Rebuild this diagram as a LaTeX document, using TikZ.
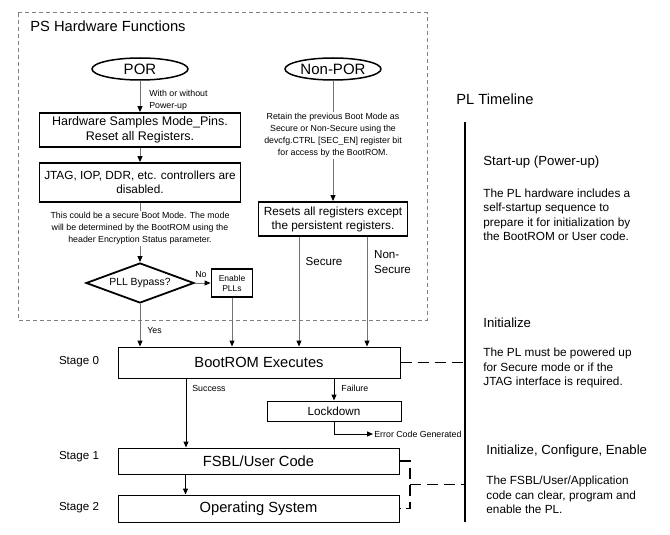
\documentclass[tikz,border=0pt]{standalone}
\usepackage{fontspec}
\setmainfont{Liberation Sans}
\usetikzlibrary{arrows.meta,shapes.geometric}

\definecolor{linegray}{RGB}{115,115,115}
\definecolor{framegray}{RGB}{128,128,128}

\tikzset{every picture/.style={line width=0.75pt}}
\tikzset{
  flow/.style={draw=linegray, line width=1pt, -{Triangle[length=6pt,width=5pt,color=black]}},
  thickbox/.style={draw, line width=1.8pt, inner sep=0pt, align=center, font=\fontsize{12.5}{14.5}\selectfont},
  stagebox/.style={draw, line width=1pt, inner sep=0pt, minimum width=282pt, font=\fontsize{14.7}{17}\selectfont},
  porshape/.style={ellipse, draw, line width=1.5pt, minimum width=96pt, minimum height=22pt, inner sep=0pt, font=\fontsize{15}{17}\selectfont},
  tinytxt/.style={inner sep=1pt, align=center, font=\fontsize{8.8}{12}\selectfont},
  midtxt/.style={inner sep=0.75pt, align=left, font=\fontsize{11.6}{15}\selectfont},
  bodytxt/.style={anchor=west, inner sep=0pt, align=left, font=\fontsize{11.8}{14.5}\selectfont},
  headtxt/.style={anchor=west, inner sep=0pt, font=\fontsize{13.2}{15}\selectfont},
  linkdash/.style={line width=1.5pt, dash pattern=on 11pt off 6pt},
}

\begin{document}
\begin{tikzpicture}[x=1pt,y=1pt,yscale=-1,xscale=1]
\useasboundingbox (0,0) rectangle (670,535);

%Shape: Dashed Frame
\draw [framegray, line width=1pt, dash pattern=on 4pt off 3pt] (18,13) rectangle (427,320);
% Text Node
\draw (30,26) node [anchor=west, inner sep=0pt, font=\fontsize{14.7}{17}\selectfont] (pstitle) {PS Hardware Functions};

%Shape: Ellipse
\draw (140,69) node [porshape] (por) {POR};
%Shape: Ellipse
\draw (333,69) node [porshape] (nonpor) {Non-POR};
%Shape: Rectangle
\draw (140,130) node [thickbox, minimum width=201pt, minimum height=34pt] (hw) {Hardware Samples Mode\_Pins.\\Reset all Registers.};
%Shape: Rectangle
\draw (140,182.5) node [thickbox, minimum width=201pt, minimum height=39pt, font=\fontsize{11.8}{14.5}\selectfont] (jtag) {JTAG, IOP, DDR, etc. controllers are\\disabled.};
%Shape: Diamond
\draw (140,283) node [diamond, draw, line width=1.8pt, aspect=2.7, inner sep=0pt, minimum width=108pt, minimum height=40pt, font=\fontsize{10.4}{12}\selectfont] (pll) {PLL Bypass?};
%Shape: Rectangle
\draw (232,283) node [thickbox, minimum width=41pt, minimum height=28pt, font=\fontsize{8.5}{10}\selectfont] (enpll) {Enable\\PLLs};
%Shape: Rectangle
\draw (333,219) node [thickbox, minimum width=149pt, minimum height=34pt, font=\fontsize{11.8}{14}\selectfont] (reset) {Resets all registers except\\the persistent registers.};
%Shape: Rectangle
\draw (259,362.5) node [stagebox, minimum height=31pt] (boot) {BootROM Executes};
%Shape: Rectangle
\draw (334,411) node [stagebox, minimum width=134pt, minimum height=20pt, font=\fontsize{11.7}{14}\selectfont] (lock) {Lockdown};
%Shape: Rectangle
\draw (258.5,461) node [stagebox, minimum width=281pt, minimum height=26pt] (fsbl) {FSBL/User Code};
%Shape: Rectangle
\draw (258.5,508.5) node [stagebox, minimum width=281pt, minimum height=27pt] (os) {Operating System};

\coordinate (secfoot) at ([xshift=-34pt]reset.south);
\coordinate (nsfoot) at ([xshift=34pt]reset.south);
\coordinate (okfoot) at ([xshift=-73pt]boot.south);
\coordinate (osfoot) at ([xshift=-73pt]fsbl.south);

%Straight Lines
\draw [flow] (por) -- (hw);
\draw [flow] (hw) -- (jtag);
\draw [flow] (jtag) -- (pll);
\draw [flow] (nonpor) -- (reset);
\draw [flow] (pll) -- (enpll);
\draw [flow] (pll.south) -- (pll.south |- boot.north);
\draw [flow] (enpll) -- (enpll |- boot.north);
\draw [flow] (secfoot) -- (secfoot |- boot.north);
\draw [flow] (nsfoot) -- (nsfoot |- boot.north);
\draw [flow, draw=black] (okfoot) -- (okfoot |- fsbl.north);
\draw [flow, draw=black] (lock.north |- boot.south) -- (lock.north);
\draw [flow, draw=black] (osfoot) -- (osfoot |- os.north);

% Text Node
\draw (373,434) node [anchor=west, tinytxt] (errtxt) {Error Code Generated};
\draw [flow, draw=black] (lock.south) |- (errtxt.west);

% Text Node
\draw (148,100) node [anchor=west, tinytxt, align=left] (withpwr) {With or without\\Power-up};
% Text Node
\draw (140,228.5) node [tinytxt, fill=white] (encnote) {This could be a secure Boot Mode. The mode\\will be determined by the BootROM using the\\header Encryption Status parameter.};
% Text Node
\draw (333,135.5) node [tinytxt, fill=white] (retain) {Retain the previous Boot Mode as\\Secure or Non-Secure using the\\devcfg.CTRL [SEC\_EN] register bit\\for access by the BootROM.};
% Text Node
\draw (201,275) node [tinytxt] (nolbl) {No};
\draw (146,331) node [anchor=west, tinytxt] (yeslbl) {Yes};
\draw (191,388) node [anchor=west, tinytxt] (oklbl) {Success};
\draw (340,388) node [anchor=west, tinytxt] (faillbl) {Failure};
% Text Node
\draw (324,262) node [midtxt] (seclbl) {Secure};
\draw (373,262.5) node [anchor=west, midtxt] (nslbl) {Non-\\Secure};
% Text Node
\draw (79,362) node [midtxt] (st0) {Stage 0};
\draw (79,457) node [midtxt] (st1) {Stage 1};
\draw (79,508) node [midtxt] (st2) {Stage 2};

%Straight Lines
\coordinate (tltop) at (465,122);
\coordinate (tlbot) at (465,522);
\coordinate (brk) at (410,484.5);
\draw [line width=2pt] (tltop) -- (tlbot);
\draw [linkdash] (boot.east) -- (boot.east -| tltop);
\draw [linkdash] (fsbl.east) -| (brk) |- (os.east);
\draw [linkdash] (brk) -- (brk -| tltop);

% Text Node
\draw (456,99) node [anchor=west, inner sep=0pt, font=\fontsize{14.7}{17}\selectfont] (pltitle) {PL Timeline};
\draw (483,162) node [headtxt] (starthd) {Start-up (Power-up)};
\draw (483,215) node [bodytxt] (starttx) {The PL hardware includes a\\self-startup sequence to\\prepare it for initialization by\\the BootROM or User code.};
\draw (483,323) node [headtxt] (inithd) {Initialize};
\draw (483,368) node [bodytxt] (inittx) {The PL must be powered up\\for Secure mode or if the\\JTAG interface is required.};
\draw (486,451) node [headtxt] (icehd) {Initialize, Configure, Enable};
\draw (486,495) node [bodytxt] (icetx) {The FSBL/User/Application\\code can clear, program and\\enable the PL.};

\end{tikzpicture}
\end{document}
